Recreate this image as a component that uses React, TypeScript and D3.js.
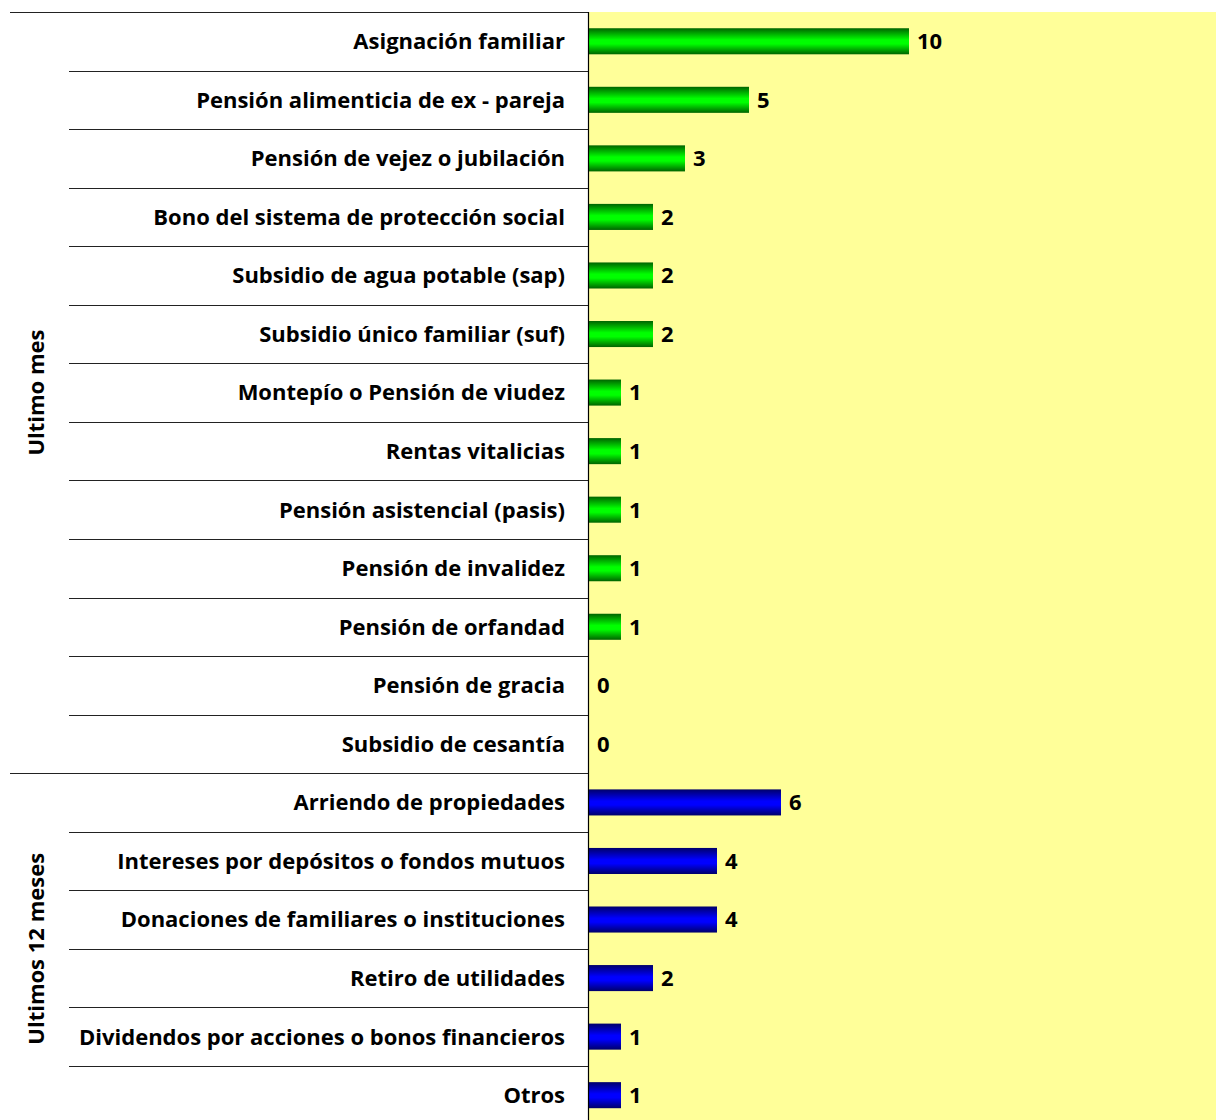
import React from "react";
import * as d3 from "d3";

const groups = ["Ultimo mes", "Ultimos 12 meses"];
const mesCategories = [
  "Asignación familiar",
  "Pensión alimenticia de ex - pareja",
  "Pensión de vejez o jubilación",
  "Bono del sistema de protección social",
  "Subsidio de agua potable (sap)",
  "Subsidio único familiar (suf)",
  "Montepío o Pensión de viudez",
  "Rentas vitalicias",
  "Pensión asistencial (pasis)",
  "Pensión de invalidez",
  "Pensión de orfandad",
  "Pensión de gracia",
  "Subsidio de cesantía",
];
const mesValues = [10, 5, 3, 2, 2, 2, 1, 1, 1, 1, 1, 0, 0];
const anioCategories = [
  "Arriendo de propiedades",
  "Intereses por depósitos o fondos mutuos",
  "Donaciones de familiares o instituciones",
  "Retiro de utilidades",
  "Dividendos por acciones o bonos financieros",
  "Otros",
];
const anioValues = [6, 4, 4, 2, 1, 1];

export default function App() {
  const W = 1216;
  const H = 1120;
  const top = 12;
  const axisX = 588.5;
  const rowH = 58.55;
  const rows = [
    ...mesCategories.map((c, i) => ({ c, v: mesValues[i], g: 0 })),
    ...anioCategories.map((c, i) => ({ c, v: anioValues[i], g: 1 })),
  ];
  const y = d3
    .scaleBand<number>()
    .domain(rows.map((_, i) => i))
    .range([top, top + rows.length * rowH])
    .paddingInner(0.555)
    .paddingOuter(0.2775);
  const x = d3.scaleLinear().domain([0, 20]).range([589, 1229]);
  const font = "'Open Sans', sans-serif";
  const fs = 22;
  const groupRanges = [
    [0, mesCategories.length],
    [mesCategories.length, rows.length],
  ];
  return (
    <svg
      width={W}
      height={H}
      style={{ position: "absolute", left: 0, top: 0, display: "block" }}
    >
      <defs>
        <linearGradient id="gGreen" x1="0" y1="0" x2="0" y2="1">
          <stop offset="0" stopColor="#006400" />
          <stop offset="0.45" stopColor="#00ff00" />
          <stop offset="0.6" stopColor="#00ff00" />
          <stop offset="1" stopColor="#006400" />
        </linearGradient>
        <linearGradient id="gBlue" x1="0" y1="0" x2="0" y2="1">
          <stop offset="0" stopColor="#00006a" />
          <stop offset="0.45" stopColor="#0000ff" />
          <stop offset="0.6" stopColor="#0000ff" />
          <stop offset="1" stopColor="#00006a" />
        </linearGradient>
      </defs>
      <rect x={0} y={0} width={W} height={H} fill="#ffffff" />
      <rect x={589} y={top} width={W - 589} height={H - top} fill="#ffff99" />
      {rows.map((r, i) => {
        const yb = y(i)!;
        return (
          <g key={i}>
            <rect
              x={x(0)}
              y={yb}
              width={x(r.v) - x(0)}
              height={y.bandwidth()}
              fill={r.g === 0 ? "url(#gGreen)" : "url(#gBlue)"}
            />
            <text
              x={x(r.v) + 8}
              y={yb + y.bandwidth() / 2}
              dy="0.36em"
              fontFamily={font}
              fontWeight="bold"
              fontSize={fs}
              fill="#000"
            >
              {r.v}
            </text>
            <text
              x={565}
              y={yb + y.bandwidth() / 2}
              dy="0.36em"
              textAnchor="end"
              fontFamily={font}
              fontWeight="bold"
              fontSize={fs}
              fill="#000"
            >
              {r.c}
            </text>
          </g>
        );
      })}
      {rows.map((_, i) => {
        const yy = Math.round(top + i * rowH) + 0.5;
        const isGroupStart = groupRanges.some((g) => g[0] === i);
        return (
          <line
            key={"l" + i}
            x1={isGroupStart ? 10 : 69}
            x2={axisX}
            y1={yy}
            y2={yy}
            stroke="#222"
            strokeWidth={1.2}
          />
        );
      })}
      <line x1={axisX} x2={axisX} y1={top} y2={H} stroke="#000" strokeWidth={1.2} />
      {groups.map((g, gi) => {
        const [a, b] = groupRanges[gi];
        const cy = top + ((a + b) / 2) * rowH;
        return (
          <text
            key={g}
            transform={`translate(36,${cy}) rotate(-90)`}
            dy="0.36em"
            textAnchor="middle"
            fontFamily={font}
            fontWeight="bold"
            fontSize={fs}
            fill="#000"
          >
            {g}
          </text>
        );
      })}
    </svg>
  );
}
